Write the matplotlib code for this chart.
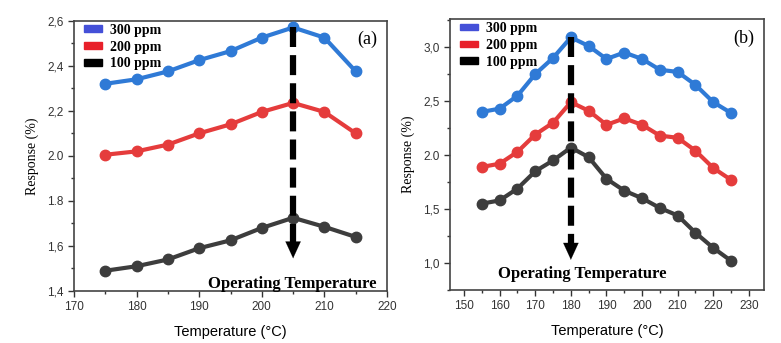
import matplotlib
matplotlib.use("Agg")
import matplotlib.pyplot as plt
from matplotlib.ticker import FixedLocator, FixedFormatter, MultipleLocator
from matplotlib.patches import Patch

# ---- data ----
temps_a = [175, 180, 185, 190, 195, 200, 205, 210, 215]
a_300 = [2.32, 2.34, 2.375, 2.425, 2.465, 2.525, 2.57, 2.525, 2.375]
a_200 = [2.005, 2.02, 2.05, 2.10, 2.14, 2.195, 2.235, 2.195, 2.10]
a_100 = [1.49, 1.51, 1.54, 1.59, 1.625, 1.68, 1.725, 1.685, 1.64]

temps_b = [155, 160, 165, 170, 175, 180, 185, 190, 195, 200, 205, 210, 215, 220, 225]
b_300 = [2.40, 2.43, 2.55, 2.75, 2.90, 3.09, 3.01, 2.89, 2.95, 2.89, 2.79, 2.77, 2.65, 2.49, 2.39]
b_200 = [1.89, 1.92, 2.03, 2.19, 2.30, 2.49, 2.41, 2.28, 2.34, 2.28, 2.18, 2.16, 2.04, 1.88, 1.77]
b_100 = [1.55, 1.58, 1.69, 1.85, 1.95, 2.07, 1.98, 1.78, 1.67, 1.60, 1.51, 1.44, 1.28, 1.14, 1.02]

series_labels = ["300 ppm", "200 ppm", "100 ppm"]
yticks_a = [1.4, 1.6, 1.8, 2.0, 2.2, 2.4, 2.6]
yticklabels_a = ["1,4", "1,6", "1.8", "2.0", "2,2", "2,4", "2,6"]
xticks_a = [170, 180, 190, 200, 210, 220]
yticks_b = [1.0, 1.5, 2.0, 2.5, 3.0]
yticklabels_b = ["1,0", "1,5", "2.0", "2,5", "3,0"]
xticks_b = [150, 160, 170, 180, 190, 200, 210, 220, 230]
peak_a = 205
peak_b = 180

line_colors = ["#2f7ad6", "#e53c3c", "#3d3d3d"]
legend_colors = ["#4450d8", "#e8202a", "#000000"]

fig = plt.figure(figsize=(7.81, 3.43), dpi=100)
axA = fig.add_axes([0.0948, 0.1516, 0.4007, 0.788])
axB = fig.add_axes([0.576, 0.1545, 0.402, 0.79])

serif = "Liberation Serif"
sans = "Liberation Sans"

def style(ax):
    for s in ax.spines.values():
        s.set_color("#444444")
        s.set_linewidth(1.2)
    ax.tick_params(which="major", direction="out", length=4, width=1, colors="#333333",
                   labelsize=8.5, labelfontfamily=sans)
    ax.tick_params(which="minor", direction="out", length=2.5, width=1, colors="#333333")
    ax.set_xlabel("Temperature (°C)", fontfamily=sans, fontsize=10.5, labelpad=8)
    ax.set_ylabel("Response (%)", fontfamily=serif, fontsize=10, labelpad=6)

def draw(ax, x, ys, peak, tip, base, text_xy, label):
    for y, c in zip(ys, line_colors):
        ax.plot(x, y, color=c, lw=3, marker="o", ms=7.5, zorder=3)
    top = max(ys[0])
    ax.plot([peak, peak], [top, base], color="black", lw=4.5, ls=(0, (3.2, 1.3)), zorder=4)
    ax.annotate("", xy=(peak, tip), xytext=(peak, base + 0.001),
                arrowprops=dict(arrowstyle="-|>,head_width=0.55,head_length=1.2",
                                color="black", lw=0.1, shrinkA=0, shrinkB=0), zorder=5)
    ax.text(text_xy[0], text_xy[1], "Operating Temperature", fontfamily=serif,
            fontweight="bold", fontsize=12, ha="center", va="center", zorder=6)
    ax.text(0.97, 0.93, label, transform=ax.transAxes, fontfamily=serif, fontsize=13,
            ha="right", va="center")
    handles = [Patch(color=c) for c in legend_colors]
    ax.legend(handles, series_labels, loc="upper left", frameon=False,
              prop=dict(family=serif, weight="bold", size=10),
              handlelength=1.3, handleheight=0.35, handletextpad=0.6,
              labelspacing=0.28, borderaxespad=0.3, bbox_to_anchor=(0.0, 1.025))

draw(axA, temps_a, [a_300, a_200, a_100], peak_a, 1.545, 1.615, (204.8, 1.43), "(a)")
axA.set_xlim(170, 220)
axA.set_ylim(1.4, 2.6)
axA.xaxis.set_major_locator(FixedLocator(xticks_a))
axA.xaxis.set_minor_locator(MultipleLocator(5))
axA.yaxis.set_major_locator(FixedLocator(yticks_a))
axA.yaxis.set_major_formatter(FixedFormatter(yticklabels_a))
axA.yaxis.set_minor_locator(MultipleLocator(0.1))
style(axA)

draw(axB, temps_b, [b_300, b_200, b_100], peak_b, 1.03, 1.17, (183.2, 0.9), "(b)")
axB.set_xlim(146, 234.2)
axB.set_ylim(0.75, 3.26)
axB.xaxis.set_major_locator(FixedLocator(xticks_b))
axB.xaxis.set_minor_locator(MultipleLocator(5))
axB.yaxis.set_major_locator(FixedLocator(yticks_b))
axB.yaxis.set_major_formatter(FixedFormatter(yticklabels_b))
axB.yaxis.set_minor_locator(MultipleLocator(0.25))
style(axB)

fig.savefig("out.png", dpi=100)
